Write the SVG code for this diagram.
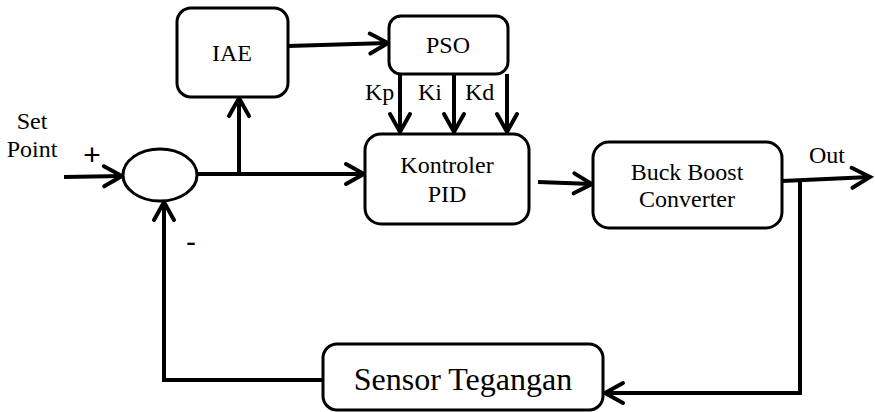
<svg xmlns="http://www.w3.org/2000/svg" width="875" height="412" viewBox="0 0 875 412">
<defs>
<marker id="arr" markerUnits="userSpaceOnUse" markerWidth="30" markerHeight="30" viewBox="-22 -15 30 30" refX="0" refY="0" orient="auto">
<path d="M-18,-10 L0,0 L-18,10" fill="none" stroke="#000" stroke-width="4" stroke-linecap="round" stroke-linejoin="miter"/>
</marker>
<style>
.box{fill:#fff;stroke:#000;stroke-width:3}
.t{font-family:"Liberation Serif","Times New Roman",serif;font-size:24px;fill:#000;text-anchor:middle}
.s{font-family:"Liberation Sans",Arial,sans-serif;font-size:30px;fill:#000;text-anchor:middle}
.c{fill:none;stroke:#000;stroke-width:4}
.a{marker-end:url(#arr)}
</style>
</defs>
<rect width="875" height="412" fill="#fff"/>
<g id="connectors">
<path class="c a" d="M64,177 L122,176"/>
<path class="c a" d="M197,174 L364,174"/>
<path class="c a" d="M239,174 L239,98"/>
<path class="c a" d="M288,46 L388,43"/>
<path class="c a" d="M400,74 L400,132"/>
<path class="c a" d="M454,74 L454,132"/>
<path class="c a" d="M507,74 L507,132"/>
<path class="c a" d="M538,182 L592,184"/>
<path class="c a" d="M782,181 L870,177"/>
<path class="c a" d="M800,180 L800,393 L605,393"/>
<path class="c a" d="M323,380 L164,380 L164,202"/>
</g>
<g id="sum">
<ellipse cx="160" cy="175" rx="37" ry="26" class="box"/>
</g>
<g id="iae">
<rect x="177" y="8" width="111" height="89" rx="14" class="box"/>
<text x="232" y="61" class="t">IAE</text>
</g>
<g id="pso">
<rect x="389" y="16" width="119" height="58" rx="12" class="box"/>
<text x="448" y="53" class="t">PSO</text>
</g>
<g id="pid">
<rect x="365" y="134" width="164" height="90" rx="16" class="box"/>
<text x="447" y="173" class="t">Kontroler</text>
<text x="447" y="202" class="t">PID</text>
</g>
<g id="buck">
<rect x="593" y="142" width="189" height="86" rx="16" class="box"/>
<text x="687" y="180" class="t">Buck Boost</text>
<text x="687" y="207" class="t">Converter</text>
</g>
<g id="sensor">
<rect x="323" y="344" width="280" height="66" rx="14" class="box"/>
<text x="463" y="390" class="t" style="font-size:32px">Sensor Tegangan</text>
</g>
<g id="labels">
<text x="32" y="129" class="t">Set</text>
<text x="32" y="157" class="t">Point</text>
<text x="92" y="165" class="s">+</text>
<text x="191" y="252" class="s">-</text>
<text x="365" y="100" class="t" style="text-anchor:start">Kp</text>
<text x="418" y="100" class="t" style="text-anchor:start">Ki</text>
<text x="465" y="100" class="t" style="text-anchor:start">Kd</text>
<text x="809" y="163" class="t" style="text-anchor:start">Out</text>
</g>
</svg>
